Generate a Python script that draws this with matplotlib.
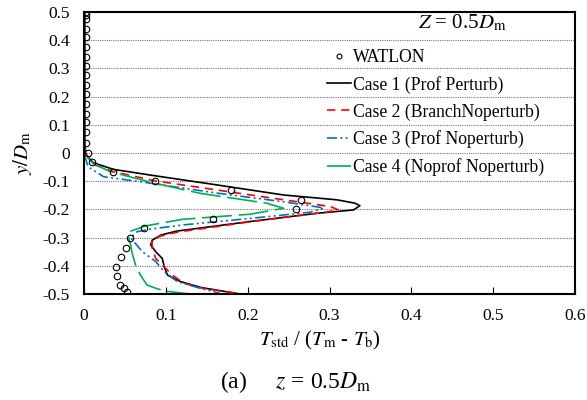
import matplotlib
matplotlib.use('Agg')
import matplotlib.pyplot as plt

plt.rcParams['font.family'] = ['Liberation Serif', 'DejaVu Serif']
plt.rcParams['mathtext.fontset'] = 'stix'

# WATLON measurements
watlon_x = [0.003, 0.003, 0.003, 0.003, 0.003, 0.003, 0.003, 0.003, 0.003, 0.003, 0.003,
            0.003, 0.003, 0.003, 0.003, 0.003, 0.0045, 0.010, 0.035, 0.087, 0.18, 0.265,
            0.259, 0.158, 0.073, 0.0557, 0.051, 0.0448, 0.0395, 0.0407, 0.0436, 0.049, 0.052]
watlon_y = [0.5, 0.49, 0.475, 0.44, 0.41, 0.375, 0.34, 0.31, 0.275, 0.24, 0.21, 0.175,
            0.14, 0.11, 0.075, 0.035, 0.0, -0.033, -0.067, -0.099, -0.132, -0.167, -0.2,
            -0.233, -0.267, -0.303, -0.336, -0.37, -0.403, -0.435, -0.468, -0.48, -0.492]

# Case 1 (Prof Perturb)
case1_x = [0.001, 0.001, 0.001, 0.002, 0.003, 0.011, 0.036, 0.085, 0.162, 0.244, 0.309,
           0.331, 0.337, 0.329, 0.284, 0.203, 0.145, 0.113, 0.094, 0.0835, 0.0815, 0.0876,
           0.0957, 0.098, 0.102, 0.118, 0.143, 0.191]
case1_y = [0.5, 0.2, 0.05, 0.0, -0.007, -0.034, -0.058, -0.08, -0.113, -0.149, -0.166,
           -0.178, -0.187, -0.202, -0.214, -0.243, -0.265, -0.277, -0.291, -0.309, -0.326,
           -0.35, -0.374, -0.403, -0.433, -0.456, -0.477, -0.5]

# Case 2 (BranchNoperturb)
case2_x = [0.001, 0.001, 0.001, 0.002, 0.004, 0.011, 0.036, 0.085, 0.162, 0.244, 0.301,
           0.311, 0.295, 0.278, 0.2, 0.145, 0.115, 0.093, 0.083, 0.0835, 0.0876, 0.0957,
           0.108, 0.122, 0.145, 0.193]
case2_y = [0.5, 0.2, 0.05, 0.0, -0.01, -0.04, -0.066, -0.098, -0.131, -0.166, -0.19,
           -0.202, -0.21, -0.216, -0.245, -0.268, -0.28, -0.295, -0.31, -0.338, -0.374,
           -0.397, -0.433, -0.462, -0.48, -0.5]

# Case 3 (Prof Noperturb)
case3_x = [0.001, 0.001, 0.001, 0.0, 0.002, 0.005, 0.024, 0.081, 0.162, 0.244, 0.289,
           0.293, 0.276, 0.203, 0.121, 0.081, 0.065, 0.057, 0.0713, 0.0876, 0.098, 0.114,
           0.14, 0.166]
case3_y = [0.5, 0.2, 0.05, 0.0, -0.02, -0.049, -0.084, -0.107, -0.142, -0.173, -0.193,
           -0.196, -0.21, -0.232, -0.255, -0.27, -0.279, -0.3, -0.35, -0.385, -0.421,
           -0.456, -0.478, -0.498]

# Case 4 (Noprof Noperturb)
case4_x = [0.0, 0.0, 0.0, 0.001, 0.004, 0.011, 0.032, 0.083, 0.142, 0.223, 0.244, 0.203,
           0.121, 0.076, 0.055, 0.054, 0.057, 0.059, 0.063, 0.069, 0.077, 0.088, 0.1, 0.13]
case4_y = [0.5, 0.2, 0.05, 0.0, -0.015, -0.037, -0.066, -0.105, -0.143, -0.178, -0.196,
           -0.217, -0.235, -0.258, -0.279, -0.297, -0.326, -0.356, -0.397, -0.433, -0.468,
           -0.48, -0.49, -0.5]

x_ticks = [0, 0.1, 0.2, 0.3, 0.4, 0.5, 0.6]
x_tick_labels = ['0', '0.1', '0.2', '0.3', '0.4', '0.5', '0.6']
y_ticks = [0.5, 0.4, 0.3, 0.2, 0.1, 0, -0.1, -0.2, -0.3, -0.4, -0.5]
y_tick_labels = ['0.5', '0.4', '0.3', '0.2', '0.1', '0', '-0.1', '-0.2', '-0.3', '-0.4', '-0.5']

fig = plt.figure(figsize=(5.87, 4.0), dpi=100)
ax = fig.add_axes([0.143, 0.265, 0.837, 0.705])

ax.plot(watlon_x, watlon_y, 'o', mfc='none', mec='black', ms=4.7, mew=0.8, label='WATLON', zorder=5)
ax.plot(case1_x, case1_y, color='black', lw=1.2, label='Case 1 (Prof Perturb)')
ax.plot(case2_x, case2_y, color='#ff0000', lw=1.2, ls=(0, (5, 3.5)), label='Case 2 (BranchNoperturb)')
ax.plot(case3_x, case3_y, color='#0070c0', lw=1.2, ls=(0, (6, 2, 1.2, 2, 1.2, 2)),
        label='Case 3 (Prof Noperturb)')
ax.plot(case4_x, case4_y, color='#00b050', lw=1.2, ls=(0, (18, 4)), label='Case 4 (Noprof Noperturb)')

ax.set_xlim(0, 0.6)
ax.set_ylim(-0.5, 0.5)
ax.set_xticks(x_ticks)
ax.set_xticklabels(x_tick_labels, fontsize=12.5)
ax.set_yticks(y_ticks)
ax.set_yticklabels(y_tick_labels, fontsize=12.5)
ax.tick_params(axis='x', direction='in', length=5, width=0.8, pad=10)
ax.tick_params(axis='y', length=0, pad=10)
ax.yaxis.grid(True, color='#777777', ls=(0, (1, 1)), lw=0.8)
ax.set_axisbelow(True)
for s in ax.spines.values():
    s.set_linewidth(1.5)

ax.set_xlabel(r'$T_{\mathrm{std}}$ / ($T_{\mathrm{m}}$ - $T_{\mathrm{b}}$)', fontsize=15)
ax.xaxis.set_label_coords(0.48, -0.125)
ax.set_ylabel(r'$y/D_{\mathrm{m}}$', fontsize=15, labelpad=6)

ax.text(0.861, 0.943, r'$Z$ = 0.5$D_{\mathrm{m}}$', transform=ax.transAxes, fontsize=15,
        ha='right', va='baseline')

leg = ax.legend(loc='upper left', bbox_to_anchor=(0.476, 0.90), frameon=False, fontsize=12.7,
                handlelength=1.4, handletextpad=0.1, labelspacing=0.55, borderpad=0,
                markerscale=0.75)

fig.text(0.503, 0.045, r'(a)     $z$ = 0.5$D_{\mathrm{m}}$', fontsize=17, ha='center', va='center')

fig.savefig('out.png', dpi=100)
